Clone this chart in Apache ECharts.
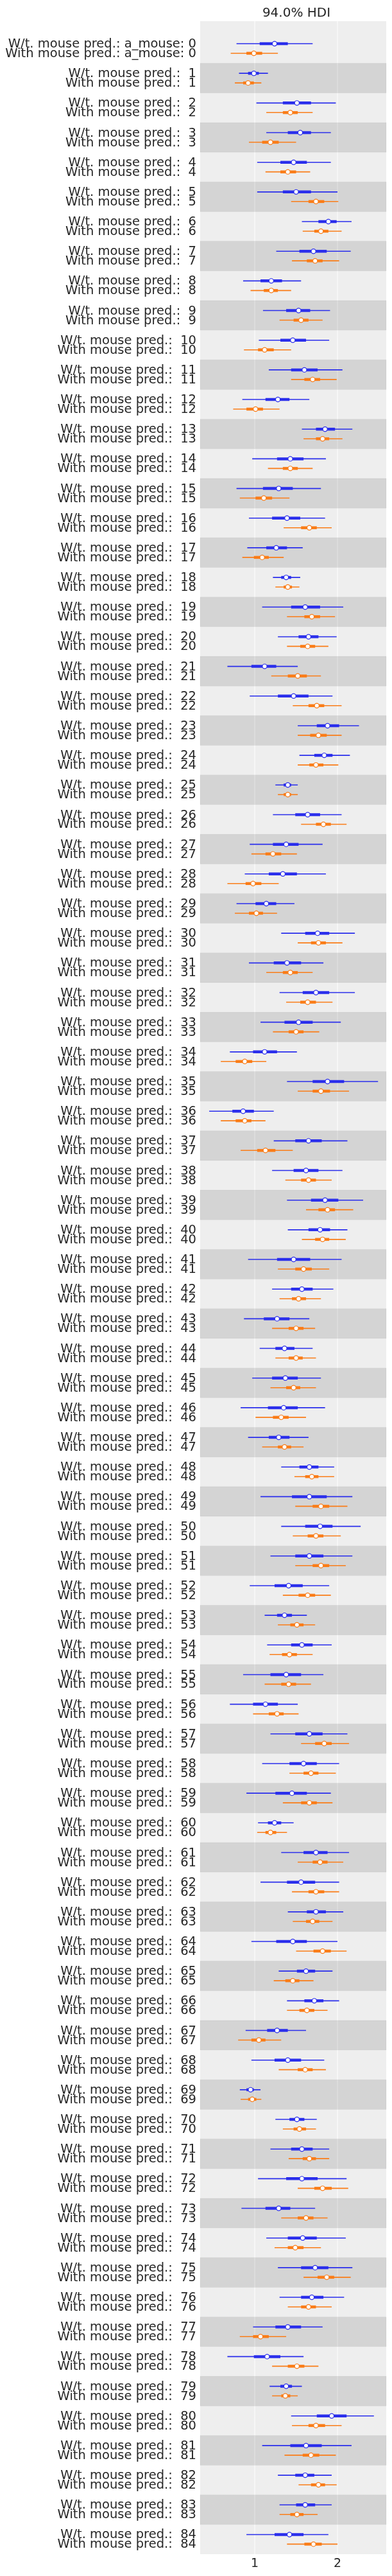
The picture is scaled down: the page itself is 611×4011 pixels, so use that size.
<!DOCTYPE html>
<html><head><meta charset="utf-8">
<script src="https://cdn.jsdelivr.net/npm/echarts@6/dist/echarts.min.js"></script>
<style>html,body{margin:0;padding:0;background:#fff}#c{width:611px;height:4011px}</style>
</head><body><div id="c"></div>
<script>
// Each row: [hdi low, iqr low, median, iqr high, hdi high]
const groups = Array.from({length: 85}, (_, i) => i);
const xTicks = [1, 2];
const wtMouse = [
[0.78,1.06,1.24,1.40,1.70],[0.81,0.92,0.99,1.05,1.16],[1.02,1.34,1.51,1.68,1.98],[1.14,1.40,1.55,1.68,1.92],[1.03,1.31,1.47,1.63,1.92],
[1.03,1.34,1.50,1.68,2.00],[1.57,1.77,1.89,1.99,2.17],[1.26,1.54,1.71,1.87,2.16],[0.86,1.07,1.20,1.33,1.56],[1.10,1.38,1.53,1.67,1.91],
[1.05,1.31,1.46,1.62,1.90],[1.17,1.44,1.60,1.76,2.06],[0.85,1.13,1.28,1.42,1.66],[1.57,1.74,1.85,1.97,2.18],[0.97,1.27,1.43,1.59,1.86],
[0.78,1.10,1.29,1.46,1.80],[0.93,1.21,1.39,1.55,1.85],[0.91,1.14,1.26,1.39,1.58],[1.22,1.32,1.38,1.44,1.55],[1.09,1.44,1.61,1.79,2.07],
[1.28,1.53,1.65,1.77,1.99],[0.67,0.96,1.12,1.26,1.52],[0.94,1.28,1.47,1.65,1.94],[1.52,1.75,1.88,2.02,2.26],[1.54,1.72,1.84,1.94,2.15],
[1.25,1.35,1.40,1.44,1.52],[1.22,1.49,1.64,1.79,2.05],[0.94,1.22,1.38,1.53,1.82],[0.88,1.17,1.34,1.51,1.86],[0.78,1.01,1.14,1.26,1.48],
[1.32,1.61,1.76,1.90,2.21],[0.93,1.23,1.39,1.56,1.83],[1.30,1.58,1.74,1.90,2.21],[1.07,1.36,1.53,1.70,2.04],[0.70,0.98,1.12,1.27,1.51],
[1.39,1.70,1.88,2.08,2.49],[0.45,0.73,0.86,0.99,1.23],[1.23,1.49,1.65,1.81,2.12],[1.21,1.47,1.62,1.77,2.06],[1.39,1.68,1.85,2.01,2.31],
[1.40,1.65,1.79,1.91,2.12],[0.92,1.27,1.47,1.67,2.05],[1.21,1.44,1.57,1.70,1.95],[0.87,1.11,1.27,1.42,1.66],[1.06,1.25,1.36,1.48,1.70],
[0.97,1.21,1.37,1.52,1.80],[0.83,1.16,1.35,1.52,1.85],[0.92,1.17,1.29,1.42,1.65],[1.32,1.54,1.66,1.77,1.96],[1.07,1.45,1.66,1.87,2.18],
[1.32,1.61,1.79,1.94,2.28],[1.19,1.49,1.66,1.83,2.18],[0.94,1.24,1.41,1.58,1.90],[1.12,1.27,1.36,1.45,1.63],[1.15,1.44,1.57,1.70,1.93],
[0.86,1.19,1.38,1.56,1.83],[0.70,0.98,1.13,1.28,1.52],[1.19,1.49,1.66,1.82,2.12],[1.09,1.42,1.59,1.75,2.02],[0.90,1.25,1.45,1.63,1.92],
[1.04,1.16,1.24,1.32,1.47],[1.32,1.59,1.74,1.88,2.14],[1.07,1.39,1.56,1.73,2.02],[1.40,1.63,1.74,1.86,2.07],[0.96,1.26,1.46,1.63,2.00],
[1.29,1.51,1.62,1.73,1.94],[1.39,1.60,1.72,1.83,2.02],[0.89,1.15,1.27,1.40,1.62],[0.96,1.24,1.40,1.56,1.84],[0.82,0.90,0.95,0.99,1.07],
[1.25,1.42,1.51,1.60,1.75],[1.19,1.44,1.57,1.70,1.90],[1.04,1.38,1.57,1.76,2.11],[0.84,1.13,1.29,1.43,1.73],[1.14,1.40,1.58,1.75,2.10],
[1.28,1.56,1.73,1.89,2.18],[1.30,1.56,1.69,1.83,2.08],[0.98,1.25,1.40,1.56,1.82],[0.67,0.99,1.15,1.31,1.59],[1.18,1.31,1.38,1.45,1.57],
[1.44,1.75,1.93,2.11,2.44],[1.09,1.43,1.62,1.81,2.17],[1.28,1.49,1.61,1.72,1.93],[1.30,1.50,1.61,1.73,1.93],[0.90,1.24,1.42,1.59,1.89]
];
const withMouse = [
[0.71,0.90,0.99,1.09,1.28],[0.76,0.86,0.92,0.99,1.08],[1.14,1.34,1.43,1.52,1.70],[0.93,1.09,1.19,1.29,1.50],[1.13,1.31,1.40,1.50,1.67],
[1.44,1.65,1.74,1.84,2.01],[1.58,1.72,1.80,1.89,2.05],[1.45,1.63,1.73,1.82,2.02],[0.95,1.11,1.20,1.28,1.44],[1.30,1.47,1.56,1.65,1.82],
[0.87,1.04,1.12,1.23,1.44],[1.44,1.60,1.70,1.79,1.99],[0.74,0.90,1.01,1.10,1.30],[1.59,1.74,1.82,1.90,2.06],[1.16,1.34,1.43,1.52,1.70],
[0.82,1.01,1.11,1.21,1.42],[1.35,1.56,1.66,1.75,1.93],[0.85,0.99,1.09,1.17,1.35],[1.25,1.35,1.40,1.45,1.54],[1.39,1.60,1.69,1.79,1.97],
[1.39,1.55,1.64,1.73,1.89],[1.20,1.40,1.52,1.63,1.80],[1.46,1.65,1.75,1.84,2.05],[1.52,1.67,1.77,1.87,2.05],[1.52,1.66,1.74,1.83,2.01],
[1.28,1.35,1.40,1.44,1.52],[1.56,1.74,1.83,1.92,2.11],[0.96,1.13,1.22,1.32,1.51],[0.67,0.89,0.98,1.08,1.29],[0.76,0.93,1.02,1.10,1.27],
[1.52,1.68,1.77,1.86,2.06],[1.14,1.34,1.43,1.52,1.70],[1.38,1.55,1.64,1.74,1.94],[1.22,1.41,1.50,1.59,1.78],[0.59,0.77,0.88,0.97,1.14],
[1.52,1.70,1.80,1.91,2.14],[0.59,0.77,0.88,0.96,1.13],[0.83,1.03,1.13,1.25,1.46],[1.37,1.56,1.65,1.74,1.93],[1.62,1.77,1.88,1.97,2.19],
[1.57,1.73,1.82,1.90,2.10],[1.28,1.49,1.59,1.69,1.90],[1.30,1.45,1.53,1.62,1.80],[1.21,1.41,1.50,1.59,1.73],[1.25,1.41,1.50,1.58,1.74],
[1.19,1.38,1.47,1.55,1.74],[1.01,1.22,1.32,1.41,1.62],[1.09,1.28,1.36,1.44,1.59],[1.48,1.61,1.69,1.77,1.96],[1.49,1.70,1.80,1.90,2.12],
[1.46,1.64,1.74,1.83,2.04],[1.49,1.70,1.80,1.90,2.10],[1.34,1.53,1.64,1.73,1.92],[1.28,1.43,1.51,1.59,1.73],[1.18,1.33,1.42,1.51,1.70],
[1.12,1.32,1.41,1.50,1.68],[0.98,1.17,1.27,1.35,1.53],[1.56,1.73,1.84,1.93,2.14],[1.42,1.59,1.68,1.77,1.98],[1.34,1.56,1.66,1.75,1.94],
[1.03,1.13,1.19,1.26,1.39],[1.52,1.70,1.79,1.88,2.07],[1.45,1.65,1.74,1.84,2.02],[1.46,1.62,1.70,1.78,1.94],[1.50,1.71,1.82,1.92,2.11],
[1.23,1.37,1.46,1.54,1.71],[1.39,1.54,1.63,1.72,1.88],[0.80,0.96,1.05,1.13,1.32],[1.29,1.52,1.61,1.70,1.86],[0.83,0.92,0.97,1.02,1.08],
[1.34,1.47,1.54,1.62,1.74],[1.41,1.58,1.66,1.74,1.90],[1.52,1.72,1.82,1.93,2.13],[1.32,1.52,1.62,1.71,1.88],[1.24,1.40,1.49,1.59,1.80],
[1.59,1.76,1.87,1.96,2.16],[1.40,1.56,1.65,1.74,1.93],[0.82,0.98,1.07,1.17,1.38],[1.21,1.40,1.51,1.60,1.77],[1.21,1.32,1.37,1.43,1.52],
[1.45,1.65,1.74,1.85,2.05],[1.36,1.58,1.68,1.78,1.98],[1.53,1.68,1.77,1.85,1.99],[1.30,1.43,1.51,1.59,1.76],[1.39,1.60,1.71,1.81,2.00]
];
const BLUE = '#2a2eec', ORANGE = '#fa7c17', OFF = 0.162;
const FONT = 'DejaVu Sans';
function label(series, g) {
  return g === 0 ? series + ': a_mouse: 0' : series + ':  ' + g;
}
const estData = [];
groups.forEach(g => {
  estData.push([g, 0].concat(wtMouse[g]));
  estData.push([g, 1].concat(withMouse[g]));
});
const chart = echarts.init(document.getElementById('c'), null, {renderer: 'canvas'});
chart.setOption({
  animation: false,
  title: {text: '94.0% HDI', left: 457, top: 6, textAlign: 'center',
    textStyle: {fontFamily: FONT, fontSize: 20, fontWeight: 'normal', color: '#262626'}},
  grid: {left: 312, right: 9, top: 33, bottom: 34, show: true, backgroundColor: '#eeeeee', borderWidth: 0},
  xAxis: {type: 'value', min: 0.341, max: 2.589,
    axisLine: {show: false}, axisTick: {show: false}, splitLine: {show: false},
    axisLabel: {customValues: xTicks, fontFamily: FONT, fontSize: 19, color: '#262626', margin: 6}},
  yAxis: {type: 'value', inverse: true, min: -0.92, max: 84.5, show: false},
  series: [
    { type: 'custom', silent: true, z: 1, data: groups,
      renderItem(params, api) {
        const g = api.value(0);
        if (g % 2 === 0) return;
        const cs = params.coordSys;
        const p0 = api.coord([0.341, g - 0.5]), p1 = api.coord([0.341, g + 0.5]);
        return {type: 'rect', shape: {x: cs.x, y: p0[1], width: cs.width, height: p1[1] - p0[1]},
          style: {fill: 'rgba(0,0,0,0.105)', stroke: 'rgba(0,0,0,0.04)', lineWidth: 1}};
      }},
    { type: 'custom', silent: true, z: 0, data: xTicks,
      renderItem(params, api) {
        const cs = params.coordSys;
        const x = api.coord([api.value(0), 0])[0];
        return {type: 'line', shape: {x1: x, y1: cs.y, x2: x, y2: cs.y + cs.height},
          style: {stroke: '#ffffff', lineWidth: 1}};
      }},
    { type: 'custom', silent: true, z: 3, data: estData,
      renderItem(params, api) {
        const g = api.value(0), s = api.value(1);
        const y = g + (s === 0 ? -OFF : OFF);
        const col = s === 0 ? BLUE : ORANGE;
        const lo = api.coord([api.value(2), y]), q1 = api.coord([api.value(3), y]);
        const md = api.coord([api.value(4), y]), q3 = api.coord([api.value(5), y]);
        const hi = api.coord([api.value(6), y]);
        const cs = params.coordSys;
        return {type: 'group', children: [
          {type: 'line', shape: {x1: lo[0], y1: lo[1], x2: hi[0], y2: hi[1]}, style: {stroke: col, lineWidth: 1.6}},
          {type: 'line', shape: {x1: q1[0], y1: q1[1], x2: q3[0], y2: q3[1]}, style: {stroke: col, lineWidth: 4.5}},
          {type: 'circle', shape: {cx: md[0], cy: md[1], r: 3.6}, style: {fill: '#ffffff', stroke: col, lineWidth: 1.2}},
          {type: 'text', x: cs.x - 6, y: md[1] + 1,
            style: {text: label(s === 0 ? 'W/t. mouse pred.' : 'With mouse pred.', g), align: 'right', verticalAlign: 'middle',
              fontFamily: FONT, fontSize: 19.5, fill: '#262626'}}
        ]};
      }}
  ]
});
</script></body></html>
